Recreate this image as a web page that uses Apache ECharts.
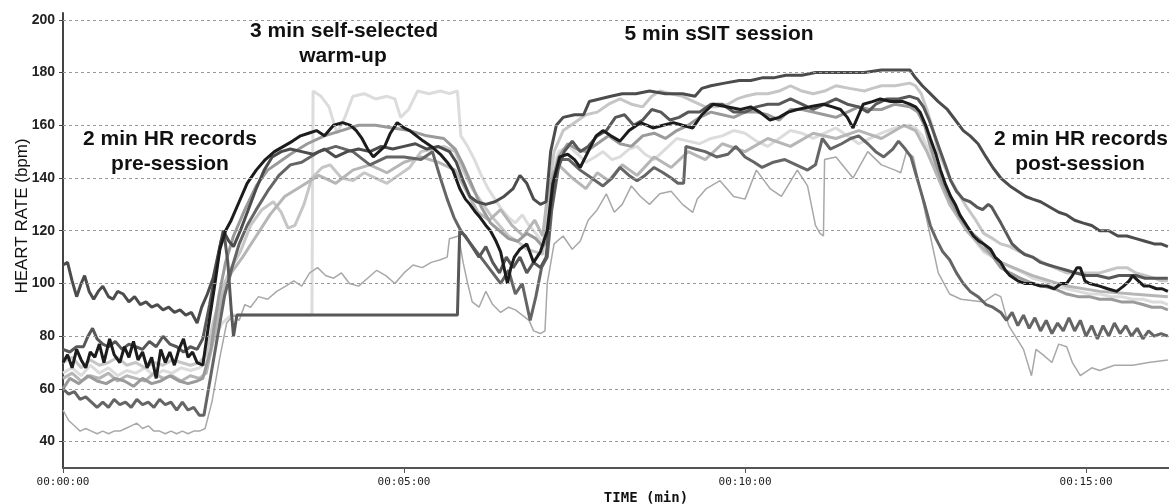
<!DOCTYPE html>
<html>
<head>
<meta charset="utf-8">
<title>Heart rate</title>
<script src="https://cdn.jsdelivr.net/npm/echarts@6/dist/echarts.min.js"></script>
<style>
  html, body { margin: 0; padding: 0; background: #fff; }
  #main { width: 1169px; height: 504px; }
</style>
</head>
<body>
<div id="main"></div>
<script>
// tick values
var yTicks = [40, 60, 80, 100, 120, 140, 160, 180, 200];
var xTicks = [0, 300, 600, 900]; // seconds

// heart rate traces: [time (s), bpm]
var serA = [[0,107],[4,108],[8,101],[12,95],[16,100],[19,103],[23,97],[27,94],[31,97],[35,99],[40,95],[44,94],[48,97],[53,96],[58,93],[63,95],[68,92],[73,93],[78,91],[83,92],[88,90],[93,91],[98,89],[103,90],[108,88],[113,89],[118,85],[122,91],[127,96],[132,102],[137,112],[141,120],[146,116],[150,114],[156,120],[163,128],[170,136],[177,143],[184,148],[192,150],[200,151],[210,150],[220,149],[230,151],[240,148],[250,150],[260,151],[270,150],[280,152],[290,151],[300,152],[310,153],[320,151],[330,152],[340,150],[346,146],[352,139],[358,133],[364,131],[372,130],[380,131],[388,133],[396,136],[402,141],[408,138],[414,132],[420,130],[425,131],[429,150],[434,160],[440,163],[450,164],[458,164],[463,169],[472,170],[482,171],[492,172],[504,172],[516,173],[530,172],[545,172],[556,171],[562,174],[570,175],[582,176],[595,177],[605,177],[615,178],[625,178],[636,179],[650,179],[662,180],[675,180],[690,180],[705,180],[720,181],[735,181],[745,181],[750,178],[756,175],[763,172],[770,169],[778,166],[785,162],[792,158],[798,156],[805,153],[812,148],[818,144],[825,140],[833,137],[840,135],[847,133],[853,132],[860,131],[868,129],[876,127],[883,126],[890,124],[897,123],[905,122],[912,120],[920,120],[928,118],[936,118],[944,117],[952,116],[960,115],[966,115],[972,114]];
var serB = [[0,70],[4,73],[8,68],[12,75],[16,71],[20,68],[24,74],[28,72],[32,77],[36,70],[41,79],[45,73],[50,70],[54,76],[58,72],[62,78],[66,71],[70,74],[74,68],[78,72],[82,64],[86,75],[90,70],[94,74],[98,69],[102,75],[106,79],[110,72],[114,74],[118,70],[123,69],[128,84],[133,98],[138,113],[143,120],[148,124],[155,131],[162,138],[170,143],[178,147],[186,150],[194,152],[202,154],[209,156],[216,157],[223,158],[230,156],[238,160],[246,161],[253,160],[258,158],[263,155],[268,151],[273,148],[278,150],[283,152],[288,157],[294,161],[300,159],[305,158],[311,156],[317,154],[324,152],[332,149],[338,146],[343,143],[349,136],[354,132],[358,130],[363,127],[367,125],[372,122],[376,120],[381,116],[385,112],[389,104],[391,100],[394,106],[397,110],[402,113],[408,115],[414,108],[420,112],[426,120],[431,138],[437,148],[444,149],[450,147],[455,144],[462,150],[469,156],[475,158],[482,156],[490,154],[498,158],[508,161],[514,160],[519,159],[528,160],[537,161],[545,160],[554,159],[562,164],[572,168],[584,167],[596,166],[605,167],[613,165],[622,162],[630,163],[638,165],[646,166],[657,167],[669,168],[677,167],[684,166],[690,163],[695,159],[700,164],[704,168],[712,169],[719,170],[728,169],[739,169],[745,168],[750,167],[754,165],[759,160],[763,155],[768,149],[772,143],[776,138],[781,133],[785,130],[789,126],[795,122],[801,118],[806,116],[810,115],[816,113],[820,110],[825,108],[829,105],[833,103],[840,101],[846,100],[853,100],[860,99],[866,99],[872,98],[878,100],[883,100],[888,103],[892,106],[895,106],[899,101],[903,100],[912,99],[919,98],[927,97],[933,99],[938,101],[941,103],[946,101],[951,99],[956,99],[962,98],[967,98],[972,97]];
var serC = [[0,75],[6,74],[12,76],[18,76],[22,80],[26,83],[30,79],[35,77],[40,76],[46,78],[52,75],[58,77],[64,76],[70,75],[76,78],[82,76],[88,80],[94,77],[100,76],[106,74],[112,76],[118,75],[123,79],[129,92],[134,104],[139,116],[142,118],[145,108],[148,90],[150,80],[153,88],[347,88],[349,120],[354,118],[360,114],[366,110],[372,114],[378,108],[384,104],[390,110],[396,106],[402,110],[408,104],[414,108],[420,106],[425,110],[429,128],[435,143],[441,150],[448,154],[455,150],[462,152],[470,156],[478,158],[486,163],[494,164],[502,160],[510,162],[518,166],[526,165],[534,162],[542,163],[550,165],[560,165],[570,168],[580,168],[590,165],[600,165],[610,167],[620,168],[630,168],[640,170],[650,168],[660,166],[670,168],[680,170],[690,168],[700,167],[708,165],[715,168],[725,170],[735,170],[745,171],[752,170],[757,167],[762,162],[767,156],[772,150],[777,144],[781,139],[786,135],[792,132],[798,131],[804,129],[809,128],[814,130],[817,129],[821,126],[825,123],[830,119],[835,115],[840,113],[846,111],[853,110],[860,108],[867,107],[875,106],[883,105],[891,104],[900,103],[910,103],[920,102],[929,103],[937,103],[944,103],[952,102],[960,102],[966,102],[972,102]];
var serD = [[0,70],[8,72],[16,68],[24,71],[32,69],[40,70],[48,72],[56,69],[64,70],[72,68],[80,70],[88,69],[96,71],[104,70],[112,69],[120,70],[126,73],[132,85],[140,98],[148,106],[156,112],[165,122],[175,128],[185,131],[192,127],[198,121],[204,122],[212,130],[219,140],[228,144],[235,145],[245,140],[255,139],[265,142],[275,140],[285,138],[295,141],[305,144],[315,150],[325,151],[335,152],[345,150],[352,143],[360,136],[368,131],[376,126],[384,122],[392,118],[400,116],[408,113],[416,112],[422,111],[427,135],[432,150],[440,158],[450,161],[460,164],[470,165],[480,168],[490,170],[500,168],[510,167],[518,171],[525,173],[535,172],[545,171],[555,169],[565,167],[575,167],[585,168],[593,170],[600,171],[610,172],[620,172],[630,173],[640,175],[650,173],[660,172],[670,173],[680,175],[692,174],[705,173],[712,174],[720,175],[732,175],[745,176],[750,175],[755,172],[760,166],[765,159],[770,150],[775,145],[780,140],[788,134],[795,129],[803,124],[810,119],[818,117],[825,115],[833,114],[842,112],[853,110],[862,108],[872,106],[883,104],[893,104],[903,104],[912,104],[920,105],[928,106],[936,106],[944,104],[952,103],[960,102],[966,101],[972,101]];
var serE = [[0,60],[6,64],[14,62],[22,65],[30,63],[38,62],[46,64],[54,63],[62,61],[70,64],[78,62],[86,63],[94,65],[102,63],[110,62],[118,63],[123,64],[130,75],[137,95],[143,108],[150,118],[160,128],[170,137],[180,143],[190,146],[200,149],[215,153],[230,156],[245,158],[260,160],[275,160],[290,159],[305,158],[320,156],[335,155],[345,151],[352,145],[360,137],[368,129],[376,123],[384,120],[392,117],[400,116],[408,119],[416,117],[422,114],[426,116],[430,138],[436,148],[444,153],[452,151],[460,150],[470,153],[480,156],[490,153],[500,152],[510,156],[520,157],[530,155],[540,158],[550,160],[560,163],[570,165],[580,164],[590,163],[600,165],[610,165],[620,164],[630,162],[640,166],[650,166],[660,165],[670,164],[680,163],[690,165],[700,167],[710,166],[720,166],[732,168],[745,167],[752,165],[758,160],[763,152],[768,145],[773,139],[778,134],[785,128],[792,123],[800,119],[808,116],[815,112],[825,106],[833,104],[842,102],[853,100],[862,99],[872,98],[883,96],[893,95],[903,95],[912,94],[922,94],[931,93],[941,93],[950,92],[958,91],[966,91],[972,90]];
var serF = [[0,66],[8,68],[16,65],[24,69],[32,66],[40,68],[48,65],[56,67],[64,66],[72,68],[80,65],[88,67],[96,66],[104,68],[112,67],[120,68],[126,70],[132,78],[140,85],[148,88],[219,88],[220,173],[227,171],[234,167],[241,157],[248,163],[255,171],[265,172],[275,170],[285,171],[292,170],[297,163],[304,166],[312,173],[322,172],[332,173],[340,172],[347,173],[350,156],[356,152],[362,147],[368,141],[374,136],[380,132],[386,128],[392,125],[398,123],[404,126],[410,122],[416,119],[421,116],[425,118],[429,140],[436,150],[445,152],[453,149],[460,146],[468,148],[475,150],[483,147],[490,148],[498,151],[505,152],[512,149],[520,147],[530,151],[540,155],[550,154],[560,153],[570,155],[580,156],[590,158],[600,157],[610,154],[620,152],[630,155],[640,158],[650,157],[660,155],[670,157],[680,159],[690,156],[700,153],[710,155],[720,157],[732,159],[745,160],[750,159],[756,156],[762,150],[768,142],[774,136],[780,131],[788,126],[795,121],[803,116],[810,112],[818,110],[825,108],[835,106],[845,104],[853,102],[862,101],[872,99],[883,98],[893,97],[903,96],[912,96],[922,95],[931,95],[941,94],[950,94],[958,93],[966,93],[972,92]];
var serG = [[0,60],[5,58],[10,59],[15,56],[20,57],[25,55],[30,53],[35,55],[40,53],[45,56],[50,54],[55,55],[60,53],[65,56],[70,54],[75,55],[80,53],[85,56],[90,54],[95,55],[100,52],[105,55],[110,52],[115,53],[120,50],[124,50],[130,65],[136,80],[142,95],[148,105],[155,115],[162,122],[170,128],[180,135],[190,141],[200,145],[210,146],[225,150],[240,152],[255,150],[270,145],[285,148],[300,148],[315,147],[325,150],[332,140],[338,132],[344,125],[350,120],[357,116],[364,112],[371,108],[378,104],[385,100],[392,105],[398,96],[404,100],[411,86],[416,95],[421,106],[426,110],[430,128],[437,147],[445,147],[455,143],[465,140],[475,137],[483,140],[490,144],[498,141],[505,139],[512,141],[520,144],[528,142],[535,140],[541,138],[546,138],[548,152],[556,151],[565,150],[575,148],[585,149],[592,152],[600,148],[608,146],[615,144],[625,146],[635,147],[645,145],[655,143],[662,145],[668,155],[675,151],[685,153],[693,155],[700,156],[708,153],[715,150],[722,148],[730,151],[735,154],[741,151],[746,148],[750,142],[754,136],[758,130],[763,122],[768,117],[774,112],[780,109],[786,104],[792,100],[798,97],[805,95],[812,92],[818,91],[825,89],[830,86],[835,89],[840,84],[845,88],[850,83],[855,87],[860,82],[865,86],[870,81],[875,85],[880,82],[885,87],[890,82],[895,86],[900,80],[905,84],[910,79],[915,84],[920,80],[925,85],[930,81],[935,84],[940,80],[945,83],[950,79],[955,82],[960,80],[966,81],[972,80]];
var serH = [[0,52],[5,48],[10,46],[15,44],[20,45],[25,44],[30,43],[35,44],[40,43],[45,44],[50,44],[55,45],[60,46],[65,47],[70,45],[75,46],[80,44],[85,44],[90,43],[95,44],[100,43],[105,44],[110,43],[115,44],[120,44],[125,45],[131,55],[138,72],[144,85],[150,88],[155,86],[160,92],[165,91],[172,95],[180,94],[188,97],[196,99],[203,101],[210,99],[217,104],[224,106],[231,103],[238,102],[245,104],[252,100],[260,99],[268,102],[276,105],[284,103],[292,100],[300,104],[308,107],[316,106],[324,108],[332,109],[338,110],[340,117],[348,118],[352,108],[356,100],[360,93],[366,91],[372,97],[378,92],[385,89],[392,91],[398,90],[404,88],[410,86],[414,82],[420,81],[424,82],[426,100],[432,115],[440,118],[448,113],[455,116],[462,124],[470,128],[478,134],[485,127],[492,130],[500,137],[508,133],[516,130],[525,134],[535,135],[545,130],[554,127],[558,132],[566,136],[578,139],[590,133],[600,132],[610,143],[622,136],[632,133],[646,143],[655,137],[662,122],[666,119],[669,118],[670,147],[680,148],[695,140],[708,150],[720,145],[732,143],[737,142],[742,150],[748,148],[757,130],[763,118],[770,104],[780,96],[790,94],[810,93],[820,96],[825,95],[832,84],[845,75],[852,65],[856,75],[862,73],[870,70],[876,77],[883,76],[888,70],[895,65],[905,68],[912,67],[925,69],[941,69],[955,70],[972,71]];
var serI = [[0,64],[8,66],[16,63],[24,65],[32,64],[40,66],[48,63],[56,65],[64,64],[72,63],[80,66],[88,64],[96,65],[104,63],[112,65],[120,64],[126,66],[133,80],[140,95],[148,104],[158,110],[170,118],[182,126],[195,133],[210,137],[225,141],[240,138],[255,143],[270,145],[285,142],[300,146],[315,148],[330,146],[345,143],[355,135],[365,127],[375,124],[385,128],[395,122],[405,118],[415,124],[422,118],[428,140],[436,145],[448,140],[460,136],[470,142],[480,139],[492,145],[505,141],[520,148],[535,144],[550,150],[565,147],[580,153],[600,150],[620,155],[640,152],[660,157],[680,155],[700,158],[720,155],[740,160],[750,158],[760,150],[770,140],[780,130],[795,120],[810,113],[825,108],[853,103],[883,99],[912,97],[941,96],[972,95]];

function pad(n) { return (n < 10 ? '0' : '') + n; }

function hrLine(data, color, width) {
    return {
        type: 'line',
        data: data,
        showSymbol: false,
        smooth: false,
        silent: true,
        lineStyle: { color: color, width: width },
        itemStyle: { color: color }
    };
}

var series = [
    hrLine(serF, '#dcdcdc', 3),
    hrLine(serD, '#c6c6c6', 3),
    hrLine(serI, '#b6b6b6', 3),
    hrLine(serH, '#a8a8a8', 1.5),
    hrLine(serE, '#9a9a9a', 3),
    hrLine(serG, '#656565', 3),
    hrLine(serC, '#585858', 3),
    hrLine(serA, '#4c4c4c', 3),
    hrLine(serB, '#1c1c1c', 3)
];

// dotted grid lines drawn behind the traces
series[0].markLine = {
    silent: true,
    symbol: ['none', 'none'],
    animation: false,
    label: { show: false },
    lineStyle: { color: '#9a9a9a', type: [3, 3], width: 1 },
    data: yTicks.map(function (v) { return { yAxis: v }; })
};

function label(text, x, y, size, family, weight, rot) {
    return {
        type: 'text',
        x: x, y: y,
        rotation: rot || 0,
        silent: true,
        style: {
            text: text,
            x: 0, y: 0,
            fontSize: size,
            fontFamily: family,
            fontWeight: weight,
            fill: '#111',
            align: 'center', verticalAlign: 'middle',
            textAlign: 'center', textVerticalAlign: 'middle'
        }
    };
}

var myChart = echarts.init(document.getElementById('main'));
var option = {
    animation: false,
    backgroundColor: '#fff',
    grid: { left: 63, right: 0, top: 13, bottom: 36, containLabel: false, outerBoundsMode: 'none' },
    xAxis: {
        type: 'value',
        min: 0,
        max: 973,
        axisLine: { show: true, lineStyle: { color: '#555', width: 2 } },
        axisTick: { show: true, customValues: xTicks, length: 5, lineStyle: { color: '#555' } },
        axisLabel: {
            customValues: xTicks,
            margin: 9,
            fontSize: 11,
            fontFamily: 'DejaVu Sans Mono',
            color: '#222',
            formatter: function (v) {
                return '00:' + pad(Math.floor(v / 60)) + ':' + pad(v % 60);
            }
        },
        splitLine: { show: false }
    },
    yAxis: {
        type: 'value',
        min: 30,
        max: 202.6,
        axisLine: { show: true, lineStyle: { color: '#444', width: 2 } },
        axisTick: { show: true, customValues: yTicks, length: 4, lineStyle: { color: '#444' } },
        axisLabel: {
            customValues: yTicks,
            margin: 8,
            fontSize: 14,
            fontWeight: 'bold',
            fontFamily: 'Liberation Sans',
            color: '#222'
        },
        splitLine: { show: false }
    },
    graphic: [
        label('HEART RATE (bpm)', 22, 216, 17, 'Liberation Sans', 'normal', Math.PI / 2),
        label('TIME (min)', 646, 498, 14, 'DejaVu Sans Mono', 'bold'),
        label('3 min self-selected', 344, 31, 21, 'Liberation Sans', 'bold'),
        label('warm-up', 343, 56, 21, 'Liberation Sans', 'bold'),
        label('5 min sSIT session', 719, 34, 21, 'Liberation Sans', 'bold'),
        label('2 min HR records', 170, 139, 21, 'Liberation Sans', 'bold'),
        label('pre-session', 170, 164, 21, 'Liberation Sans', 'bold'),
        label('2 min HR records', 1081, 139, 21, 'Liberation Sans', 'bold'),
        label('post-session', 1080, 164, 21, 'Liberation Sans', 'bold')
    ],
    series: series
};
myChart.setOption(option);
</script>
</body>
</html>
